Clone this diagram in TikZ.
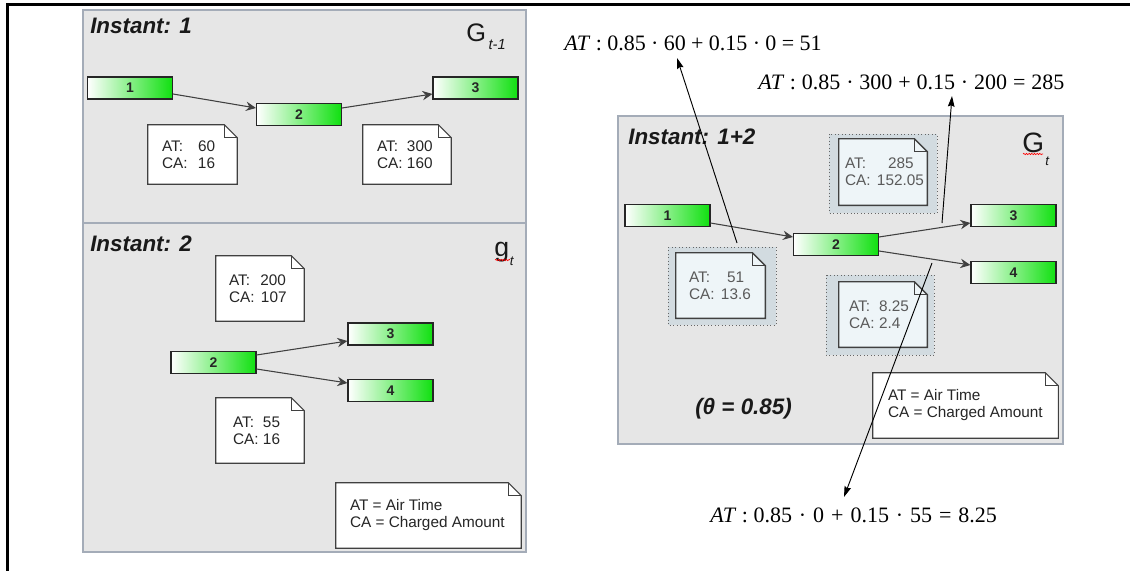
\documentclass[tikz,border=0pt]{standalone}
\usepackage{fontspec}
\setmainfont{Liberation Sans}
\newfontfamily\tms{Liberation Serif}
\usetikzlibrary{arrows.meta,calc,decorations.pathmorphing}
\definecolor{panelfill}{HTML}{E6E6E6}
\definecolor{panelbd}{HTML}{A4ACB8}
\definecolor{nodegreen}{HTML}{10E010}
\definecolor{edgegray}{HTML}{404040}
\definecolor{shadefill}{HTML}{D2DBE0}
\definecolor{innerfill}{HTML}{EEF5F8}
\definecolor{graytext}{HTML}{5A5A5A}
\pgfdeclarelayer{back}
\pgfdeclarelayer{mid}
\pgfsetlayers{back,mid,main}
\tikzset{
  panel/.style={fill=panelfill, draw=panelbd, line width=0.9pt},
  gnode/.style={draw=black!85, line width=0.8pt, left color=white, right color=nodegreen,
    minimum width=63.75pt, minimum height=16.5pt, inner sep=0pt,
    font=\fontsize{10.5}{12}\selectfont\bfseries, text=black!85},
  edge/.style={draw=edgegray, line width=0.8pt, -{Stealth[length=7.5pt,width=7pt,inset=2.5pt]}},
  fa/.style={draw=black, line width=0.7pt, -{Stealth[length=8pt,width=5pt,inset=1pt]}},
  notebox/.style={draw=none, inner sep=0pt},
  notetxt/.style={anchor=west, inner sep=0pt, align=left, font=\fontsize{11.5}{12.75}\selectfont, text=black!85},
  gtext/.style={text=graytext},
  notebd/.style={draw=black!75, line width=0.8pt, fill=white},
  innerbd/.style={draw=black!75, line width=1.1pt, fill=innerfill},
  shadebox/.style={fill=shadefill, draw=black!60, dotted, line width=0.6pt},
  title/.style={font=\fontsize{16.8}{18}\selectfont\bfseries\itshape, inner sep=0pt, text=black!90, anchor=base west},
  formula/.style={font=\tms\fontsize{16.5}{18}\selectfont, inner sep=0pt, anchor=base west},
  glabel/.style={inner sep=0pt, anchor=base west, text=black!90},
  squiggle/.style={draw=red, line width=0.5pt, decorate, decoration={snake, amplitude=0.5pt, segment length=2pt}}
}
\newcommand\kv[2]{\makebox[#1][l]{#2}}
\newcommand\mknote[8]{%
  \pgfmathsetmacro\nw{(#4-#2)*0.75}%
  \pgfmathsetmacro\nh{(#5-#3)*0.75}%
  \node[notebox, minimum width=\nw pt, minimum height=\nh pt] (#1) at ({(#2+#4)/2},{(#3+#5)/2}) {};
  \node[notetxt, #7] (#1t) at ($(#1.west)+(#6,0)$) {#8};
}
\newcommand\earshape[2]{%
  \begin{pgfonlayer}{mid}
  \path[#1] (#2.south west) -- (#2.north west) -- ([xshift=-9.75pt]#2.north east) -- ([yshift=-9.75pt]#2.north east) -- (#2.south east) -- cycle;
  \draw[#1, fill=none] ([xshift=-9.75pt]#2.north east) |- ([yshift=-9.75pt]#2.north east);
  \end{pgfonlayer}}
\newcommand\gpa{\hspace{4pt}}
\newcommand\gpb{\hspace{4.4pt}}
\newcommand\gpc{\hspace{5.2pt}}
\begin{document}
\begin{tikzpicture}[x=0.75pt, y=-0.75pt]
\useasboundingbox (0,0) rectangle (1130,571);
\begin{pgfonlayer}{back}
  \fill[white] (0,0) rectangle (1130,571);
  \draw[line width=2.25pt, line join=miter] (1130,4) -- (7.5,4) -- (7.5,571);
  \draw[panel] (83,10) rectangle (526,223);
  \draw[panel] (83,223) rectangle (526,552);
  \draw[panel] (618,116) rectangle (1063,444);
\end{pgfonlayer}

% ---------- Instant 1 ----------
\node[title] (ti1) at (90,33) {Instant: 1};
\node[glabel, font=\fontsize{19}{21}\selectfont] (gl1) at (466,41) {G\hspace{2pt}\raisebox{-6pt}{\fontsize{11}{12}\selectfont\itshape t-1}};
\node[gnode] (a1) at (130,88) {1};
\node[gnode] (a2) at (299,114.5) {2};
\node[gnode] (a3) at (475.5,88) {3};
\draw[edge] ($(a1.east)+(0,6)$) -- ($(a2.west)+(0,-6.5)$);
\draw[edge] ($(a2.east)+(0,-6.5)$) -- ($(a3.west)+(0,6)$);
\mknote{na}{148}{125}{237}{184}{14}{}{\kv{27pt}{AT:}60\\\kv{27pt}{CA:}16}
\mknote{nb}{363}{125}{451}{184}{14}{}{\kv{22.5pt}{AT:}300\\\kv{22.5pt}{CA:}160}
\earshape{notebd}{na}
\earshape{notebd}{nb}

% ---------- Instant 2 ----------
\node[title] (ti2) at (90,251) {Instant: 2};
\node[glabel, font=\fontsize{20}{22}\selectfont] (gl2) at (494,256) {g\hspace{0.5pt}\raisebox{-6.75pt}{\fontsize{10}{11}\selectfont\itshape t}};
\draw[squiggle] (495,260) -- (510,260);
\node[gnode] (b2) at (213.5,362.5) {2};
\node[gnode] (b3) at (390.5,334) {3};
\node[gnode] (b4) at (390.5,390.5) {4};
\draw[edge] ($(b2.east)+(0,-7.5)$) -- ($(b3.west)+(0,7)$);
\draw[edge] ($(b2.east)+(0,6.5)$) -- ($(b4.west)+(0,-7.5)$);
\mknote{nc}{216}{256}{304}{321}{13}{}{\kv{23.5pt}{AT:}200\\\kv{24pt}{CA:}107}
\mknote{nd}{216}{398}{304}{463}{17}{}{\kv{22.5pt}{AT:}55\\\kv{22.5pt}{CA:}16}
\mknote{le1}{336}{483}{521}{548}{14}{}{AT = Air Time\\CA = Charged Amount}
\earshape{notebd}{nc}
\earshape{notebd}{nd}
\earshape{notebd}{le1}

% ---------- Instant 1+2 ----------
\node[title] (ti3) at (628,144) {Instant: 1+2};
\node[glabel, font=\fontsize{21}{23}\selectfont] (gl3) at (1022,152) {G\hspace{1pt}\raisebox{-10pt}{\fontsize{10}{11}\selectfont\itshape t}};
\draw[squiggle] (1023,154) -- (1043,154);
\node[gnode] (r1) at (667.5,215.5) {1};
\node[gnode] (r2) at (836,244.5) {2};
\node[gnode] (r3) at (1013.5,215.5) {3};
\node[gnode] (r4) at (1013.5,272.5) {4};
\draw[edge] ($(r1.east)+(0,7.5)$) -- ($(r2.west)+(0,-7.5)$);
\draw[edge] ($(r2.east)+(0,-7.5)$) -- ($(r3.west)+(0,7.5)$);
\draw[edge] ($(r2.east)+(0,6.5)$) -- ($(r4.west)+(0,-7.5)$);
\begin{pgfonlayer}{mid}
  \path[shadebox] (829,134) rectangle (937,213);
  \path[shadebox] (668,247) rectangle (776,325);
  \path[shadebox] (826,275) rectangle (934,355);
\end{pgfonlayer}
\mknote{ne}{839}{139}{927}{205}{6}{gtext}{\kv{32.25pt}{AT:}285\\\kv{24pt}{CA:}152.05}
\mknote{nf}{676}{253}{765}{318}{13}{gtext}{\kv{28.5pt}{AT:}51\\\kv{24pt}{CA:}13.6}
\mknote{ng}{839}{282}{927}{347}{10}{gtext}{\kv{22.5pt}{AT:}8.25\\\kv{22.5pt}{CA:}2.4}
\mknote{le2}{873}{373}{1058}{438}{15}{}{AT = Air Time\\CA = Charged Amount}
\earshape{innerbd}{ne}
\earshape{innerbd}{nf}
\earshape{innerbd}{ng}
\earshape{notebd}{le2}
\node[title] (th) at (695,414) {(θ = 0.85)};

% ---------- formulas ----------
\node[formula] (f1) at (564,50) {\textit{AT}\ :\gpa0.85\gpa·\gpa60\gpa+\gpa0.15\gpa·\gpa0\gpa=\gpa51};
\node[formula] (f2) at (758,89) {\textit{AT}\ :\gpb0.85\gpb·\gpb300\gpb+\gpb0.15\gpb·\gpb200\gpb=\gpb285};
\node[formula] (f3) at (710,522) {\textit{AT}\ :\ 0.85\gpc·\gpc0\gpc+\gpc0.15\gpc·\gpc55\gpc=\gpc8.25};
\coordinate (c1) at (737,243);
\coordinate (t1) at (677,58);
\coordinate (c2) at (942,223);
\coordinate (t2) at (952,96);
\coordinate (c3) at (932,263);
\coordinate (t3) at (844,497);
\draw[fa] (c1) -- (t1);
\draw[fa] (c2) -- (t2);
\draw[fa] (c3) -- (t3);
\end{tikzpicture}
\end{document}
